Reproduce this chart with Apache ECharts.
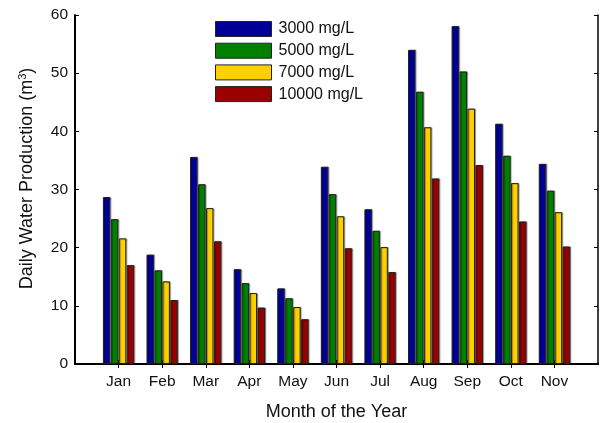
<!DOCTYPE html>
<html>
<head>
<meta charset="utf-8">
<script src="https://cdn.jsdelivr.net/npm/echarts@6/dist/echarts.min.js"></script>
<style>
  html, body { margin: 0; padding: 0; background: #fff; }
  #chart { width: 603px; height: 423px; }
</style>
</head>
<body>
<div id="chart"></div>
<script>
// Months shown on the axis; blank slots pad each end of the axis
const months = ['Jan', 'Feb', 'Mar', 'Apr', 'May', 'Jun', 'Jul', 'Aug', 'Sep', 'Oct', 'Nov'];
const seriesNames = ['3000 mg/L', '5000 mg/L', '7000 mg/L', '10000 mg/L'];
const yTicks = [0, 10, 20, 30, 40, 50, 60];

// Daily water production (m3) per feed salinity
const prod3000  = [28.7, 18.8, 35.6, 16.3, 13.0, 33.9, 26.6, 54.0, 58.1, 41.3, 34.4];
const prod5000  = [24.9, 16.1, 30.9, 13.9, 11.3, 29.2, 22.9, 46.8, 50.3, 35.8, 29.8];
const prod7000  = [21.6, 14.2, 26.8, 12.2,  9.8, 25.4, 20.1, 40.7, 43.9, 31.1, 26.1];
const prod10000 = [17.0, 11.0, 21.1,  9.7,  7.7, 19.9, 15.8, 31.9, 34.2, 24.5, 20.2];

const colors = ['#000099', '#008000', '#ffd000', '#990000'];
const allValues = [prod3000, prod5000, prod7000, prod10000];

const categories = [''].concat(months, ['']);
const pad = arr => [null].concat(arr, [null]);

const chart = echarts.init(document.getElementById('chart'), null, { renderer: 'canvas' });

const font = 'Arial, "Liberation Sans", sans-serif';
const inner = (idx) => idx > 0 && idx < categories.length - 1;

const series = seriesNames.map((name, i) => ({
  name: name,
  type: 'bar',
  data: pad(allValues[i]),
  barWidth: 7.5,
  barGap: '6%',
  itemStyle: {
    color: colors[i],
    borderColor: '#222',
    borderWidth: 1,
    shadowColor: 'rgba(0,0,0,0.35)',
    shadowBlur: 1,
    shadowOffsetX: 1
  }
}));

chart.setOption({
  animation: false,
  backgroundColor: '#fff',
  textStyle: { fontFamily: font },
  grid: { left: 75, right: 5, top: 15, bottom: 59, containLabel: false, outerBoundsMode: 'none' },
  legend: {
    orient: 'vertical',
    left: 215,
    top: 21,
    padding: 0,
    itemWidth: 56,
    itemHeight: 15,
    itemGap: 5.7,
    icon: 'rect',
    data: seriesNames,
    textStyle: { fontSize: 16, lineHeight: 15, color: '#111', fontFamily: font, padding: [0, 0, 0, 2] },
    itemStyle: { borderColor: '#222', borderWidth: 1 }
  },
  xAxis: [{
    type: 'category',
    data: categories,
    boundaryGap: false,
    name: 'Month of the Year',
    nameLocation: 'middle',
    nameGap: 39,
    nameTextStyle: { fontSize: 18, color: '#111', fontFamily: font },
    axisLine: { show: true, lineStyle: { color: '#000', width: 2 } },
    axisTick: { show: true, inside: true, length: 4, lineStyle: { color: '#000' }, interval: inner },
    axisLabel: { fontSize: 15.5, color: '#111', margin: 10, interval: 0 },
    splitLine: { show: false }
  }, {
    type: 'category',
    data: categories,
    boundaryGap: false,
    position: 'top',
    axisLine: { show: true, lineStyle: { color: '#000', width: 1.5 } },
    axisTick: { show: true, inside: true, length: 4, lineStyle: { color: '#000' }, interval: inner },
    axisLabel: { show: false }
  }],
  yAxis: [{
    type: 'value',
    min: yTicks[0],
    max: yTicks[yTicks.length - 1],
    interval: 10,
    name: '{n|Daily Water Production (m}{s|3}{n|)}',
    nameLocation: 'middle',
    nameGap: 38,
    nameTextStyle: {
      padding: [0, 0, 0, 22],
      rich: {
        n: { fontSize: 18, color: '#111', fontFamily: font },
        s: { fontSize: 11, color: '#111', fontFamily: font, verticalAlign: 'top', padding: [0, 0, 9, 0] }
      }
    },
    axisLine: { show: true, lineStyle: { color: '#000', width: 2 } },
    axisTick: { show: true, inside: true, length: 4, lineStyle: { color: '#000' } },
    axisLabel: { fontSize: 15.5, color: '#111', margin: 7 },
    splitLine: { show: false }
  }, {
    type: 'value',
    min: yTicks[0],
    max: yTicks[yTicks.length - 1],
    interval: 10,
    position: 'right',
    axisLine: { show: true, lineStyle: { color: '#000', width: 1.5 } },
    axisTick: { show: true, inside: true, length: 4, lineStyle: { color: '#000' } },
    axisLabel: { show: false },
    splitLine: { show: false }
  }],
  series: series
});
</script>
</body>
</html>
